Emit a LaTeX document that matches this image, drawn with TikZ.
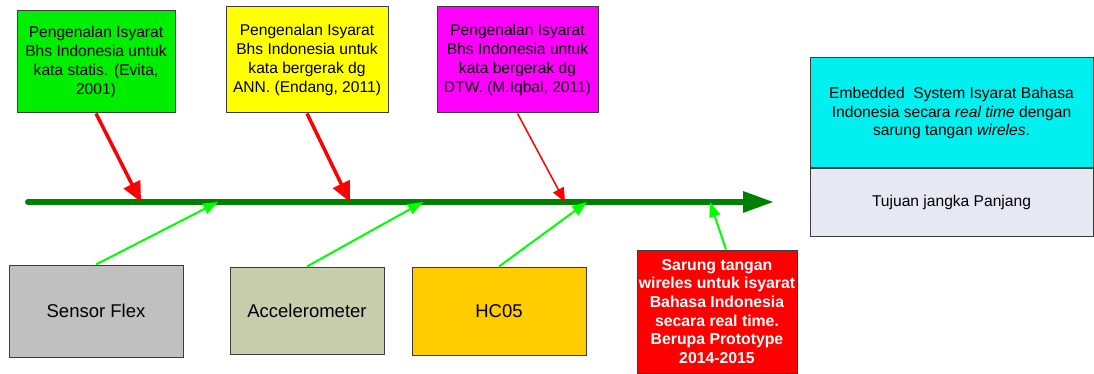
\documentclass[tikz,border=0pt]{standalone}
\usepackage{fontspec}
\setmainfont{Liberation Sans}
\usetikzlibrary{arrows.meta}

\definecolor{boxline}{RGB}{60,60,60}
\definecolor{evitagreen}{RGB}{0,238,0}
\definecolor{endangyellow}{RGB}{255,255,0}
\definecolor{iqbalmagenta}{RGB}{255,0,255}
\definecolor{spinegreen}{RGB}{0,128,0}
\definecolor{arrowgreen}{RGB}{0,255,0}
\definecolor{protored}{RGB}{255,0,0}
\definecolor{sensorgray}{RGB}{192,192,192}
\definecolor{accelolive}{RGB}{200,206,172}
\definecolor{hcorange}{RGB}{255,204,0}
\definecolor{goalcyan}{RGB}{0,240,240}
\definecolor{goalgray}{RGB}{230,233,244}

\begin{document}
\begin{tikzpicture}[x=1pt,y=-1pt,
    box/.style={draw=boxline,line width=1pt,inner sep=0pt,align=center,
        font=\fontsize{15.6}{18.8}\selectfont},
    partbox/.style={box,font=\fontsize{18.5}{22}\selectfont},
    research/.style={draw=protored,line width=3.5pt,-{Triangle[length=20pt,width=18pt]}},
    hardware/.style={draw=arrowgreen,line width=2pt,-{Triangle[length=15pt,width=11pt]}}]
    \useasboundingbox (0,0) rectangle (1094,374);
    %% Previous research
    \node[box,fill=evitagreen,minimum width=158pt,minimum height=102pt] (evita) at (96,62)
        {Pengenalan Isyarat\\Bhs Indonesia untuk\\kata statis. (Evita,\\2001)};
    \node[box,fill=endangyellow,minimum width=162pt,minimum height=106pt] (endang) at (307,60)
        {Pengenalan Isyarat\\Bhs Indonesia untuk\\kata bergerak dg\\ANN. (Endang, 2011)};
    \node[box,fill=iqbalmagenta,minimum width=161pt,minimum height=106pt] (iqbal) at (517.5,60)
        {Pengenalan Isyarat\\Bhs Indonesia untuk\\kata bergerak dg\\DTW. (M.Iqbal, 2011)};
    %% Hardware
    \node[partbox,fill=sensorgray,minimum width=174pt,minimum height=92pt] (flex) at (96,311) {Sensor Flex};
    \node[partbox,fill=accelolive,minimum width=154pt,minimum height=87pt] (accel) at (307,310.5) {Accelerometer};
    \node[partbox,fill=hcorange,minimum width=174pt,minimum height=88pt] (hc) at (499,311) {HC05};
    %% Prototype
    \node[box,fill=protored,text=white,font=\bfseries\fontsize{15.8}{18.7}\selectfont,
        minimum width=160pt,minimum height=123pt] (proto) at (717,311.5)
        {Sarung tangan\\wireles untuk isyarat\\Bahasa Indonesia\\secara real time.\\Berupa Prototype\\2014-2015};
    %% Long term goal
    \node[box,fill=goalcyan,minimum width=283pt,minimum height=110pt] (goal) at (951.5,113)
        {Embedded\ \ System Isyarat Bahasa\\Indonesia secara \textit{real time} dengan\\sarung tangan \textit{wireles}.};
    \node[box,fill=goalgray,minimum width=283pt,minimum height=67pt,anchor=north] (term) at (goal.south)
        {Tujuan jangka Panjang};
    %% Spine
    \coordinate (tail) at (28,202);
    \coordinate (head) at (774,202);
    \coordinate (r1) at (141,202);
    \coordinate (r2) at (350,202);
    \coordinate (r3) at (565,202);
    \coordinate (h1) at (218,202);
    \coordinate (h2) at (423,202);
    \coordinate (h3) at (587,202);
    \coordinate (h4) at (710,202);
    \draw[spinegreen,line width=6pt,line cap=round,-{Triangle[length=31pt,width=20pt]}] (tail) -- (head);
    \draw[research] (evita.south) -- (r1);
    \draw[research] (endang.south) -- (r2);
    \draw[protored,line width=1.5pt,-{Triangle[length=14pt,width=12pt]}] (iqbal.south) -- (r3);
    \draw[hardware] (flex.north) -- (h1);
    \draw[hardware] (accel.north) -- (h2);
    \draw[hardware] (hc.north) -- (h3);
    \draw[hardware] ([xshift=9pt]proto.north) -- (h4);
\end{tikzpicture}
\end{document}
